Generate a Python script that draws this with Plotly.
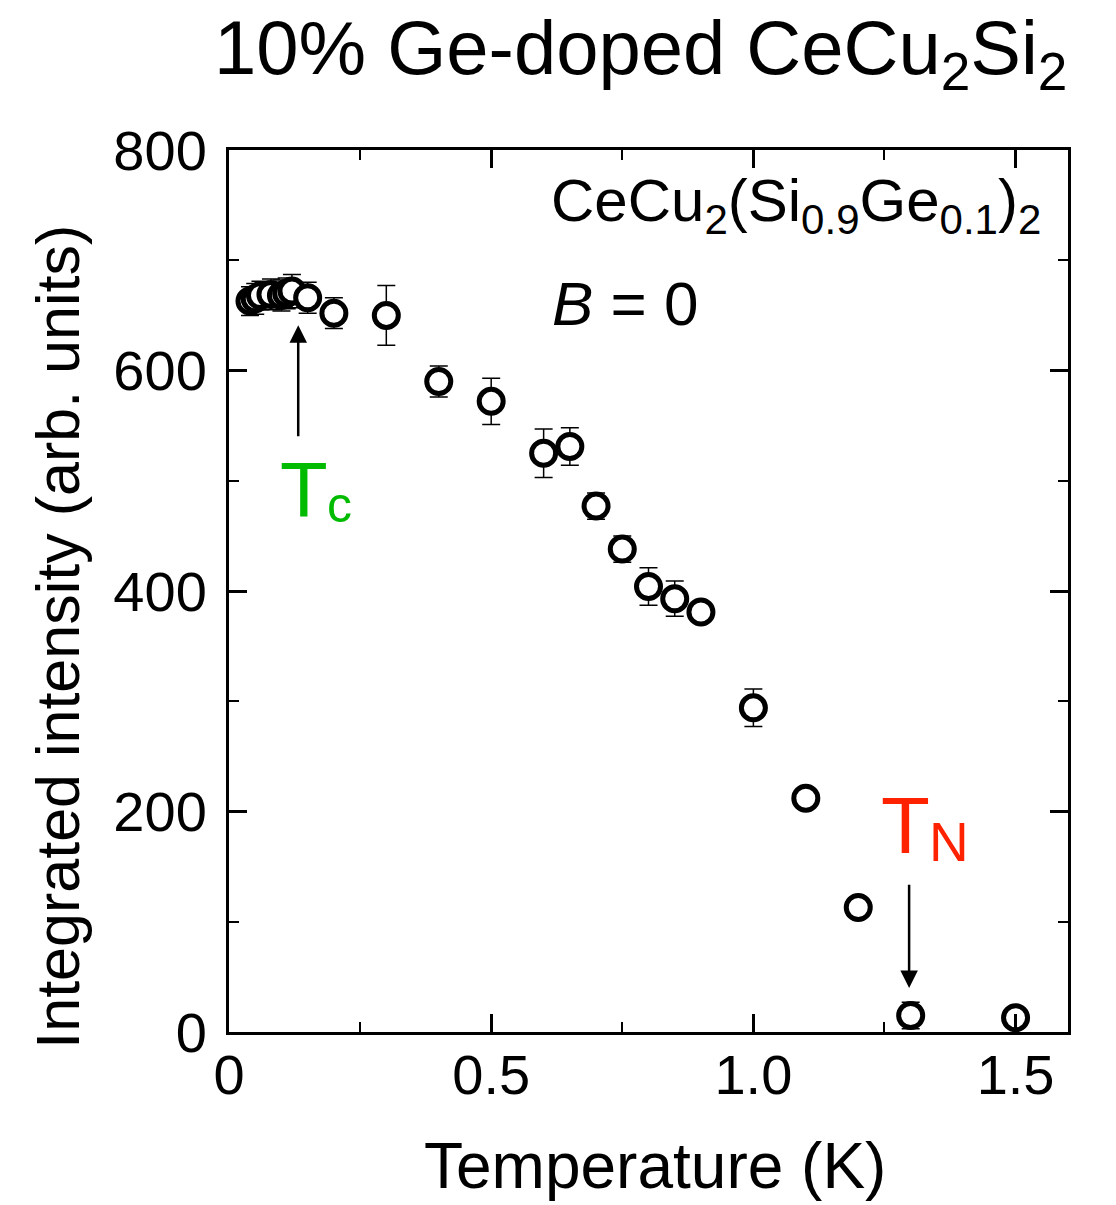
import plotly.graph_objects as go

temperature = [0.04, 0.05, 0.06, 0.08, 0.10, 0.11, 0.12, 0.15, 0.2, 0.3, 0.4, 0.5,
               0.6, 0.65, 0.7, 0.75, 0.8, 0.85, 0.9, 1.0, 1.1, 1.2, 1.3, 1.5]
intensity = [663, 665, 668, 669, 668, 670, 672, 666, 652, 650, 590, 572,
             525, 531, 477, 438, 404, 393, 381, 294, 212, 113, 15, 13]
error = [13, 14, 13, 14, 14, 14, 15, 14, 14, 27, 14, 21,
         22, 17, 12, 12, 17, 16, 8, 17, 5, 4, 12, 4]

x_ticks = [0, 0.5, 1.0, 1.5]
x_ticklabels = ["0", "0.5", "1.0", "1.5"]
y_ticks = [0, 200, 400, 600, 800]

FONT = "Liberation Sans, Arial, Helvetica, sans-serif"
GREEN = "#00bb00"
RED = "#ff2200"

fig = go.Figure()
fig.add_trace(go.Scatter(
    x=temperature, y=intensity, mode="markers",
    error_y=dict(type="data", array=error, visible=True, color="black",
                 thickness=1.5, width=9),
    marker=dict(symbol="circle", size=24, color="white",
                line=dict(color="black", width=5)),
    showlegend=False, cliponaxis=False,
))

axis_common = dict(
    showline=True, linecolor="black", linewidth=3, mirror="allticks",
    ticks="inside", ticklen=18, tickwidth=2.5, tickcolor="black",
    showgrid=False, zeroline=False,
    tickfont=dict(family=FONT, size=56, color="black"),
)

fig.update_xaxes(range=[0, 1.6], tickvals=x_ticks, ticktext=x_ticklabels,
                 minor=dict(dtick=0.25, ticks="inside", ticklen=10, tickwidth=2, tickcolor="black"),
                 ticklabelstandoff=-8,
                 **axis_common)
fig.update_yaxes(range=[0, 800], tickvals=y_ticks,
                 minor=dict(dtick=100, ticks="inside", ticklen=10, tickwidth=2, tickcolor="black"),
                 ticklabelstandoff=8,
                 **axis_common)

annotations = [
    dict(text="10% Ge-doped CeCu<sub>2</sub>Si<sub>2</sub>", xref="paper", yref="paper",
         x=0.49, y=1.11, showarrow=False, xanchor="center", yanchor="middle",
         font=dict(family=FONT, size=76, color="black")),
    dict(text="Integrated intensity (arb. units)", xref="paper", yref="paper",
         x=-0.204, y=0.448, showarrow=False, xanchor="center", yanchor="middle",
         textangle=-90, font=dict(family=FONT, size=61, color="black")),
    dict(text="Temperature (K)", xref="paper", yref="paper",
         x=0.508, y=-0.152, showarrow=False, xanchor="center", yanchor="middle",
         font=dict(family=FONT, size=64, color="black")),
    dict(text="CeCu<sub>2</sub>(Si<sub>0.9</sub>Ge<sub>0.1</sub>)<sub>2</sub>", xref="paper", yref="paper",
         x=0.970, y=0.9375, showarrow=False, xanchor="right", yanchor="middle",
         font=dict(family=FONT, size=60, color="black")),
    dict(text="<i>B</i> = 0", xref="paper", yref="paper",
         x=0.3826, y=0.826, showarrow=False, xanchor="left", yanchor="middle",
         font=dict(family=FONT, size=62, color="black")),
    dict(text="T", xref="paper", yref="paper", x=0.058, y=0.615, showarrow=False,
         xanchor="left", yanchor="middle", font=dict(family=FONT, size=78, color=GREEN)),
    dict(text="c", xref="paper", yref="paper", x=0.115, y=0.5975, showarrow=False,
         xanchor="left", yanchor="middle", font=dict(family=FONT, size=50, color=GREEN)),
    dict(text="T", xref="paper", yref="paper", x=0.775, y=0.2336, showarrow=False,
         xanchor="left", yanchor="middle", font=dict(family=FONT, size=80, color=RED)),
    dict(text="N", xref="paper", yref="paper", x=0.832, y=0.2154, showarrow=False,
         xanchor="left", yanchor="middle", font=dict(family=FONT, size=55, color=RED)),
    dict(x=0.132, y=641, ax=0.132, ay=539, xref="x", yref="y", axref="x", ayref="y",
         showarrow=True, arrowhead=2, arrowsize=1.4, arrowwidth=2.5, arrowcolor="black", text=""),
    dict(x=1.297, y=40, ax=1.297, ay=135, xref="x", yref="y", axref="x", ayref="y",
         showarrow=True, arrowhead=2, arrowsize=1.4, arrowwidth=2.5, arrowcolor="black", text=""),
]

fig.update_layout(
    width=1116, height=1205,
    margin=dict(l=229, r=48, t=150, b=173),
    plot_bgcolor="white", paper_bgcolor="white",
    annotations=annotations,
    font=dict(family=FONT, color="black"),
)

fig.write_html("out.html")
